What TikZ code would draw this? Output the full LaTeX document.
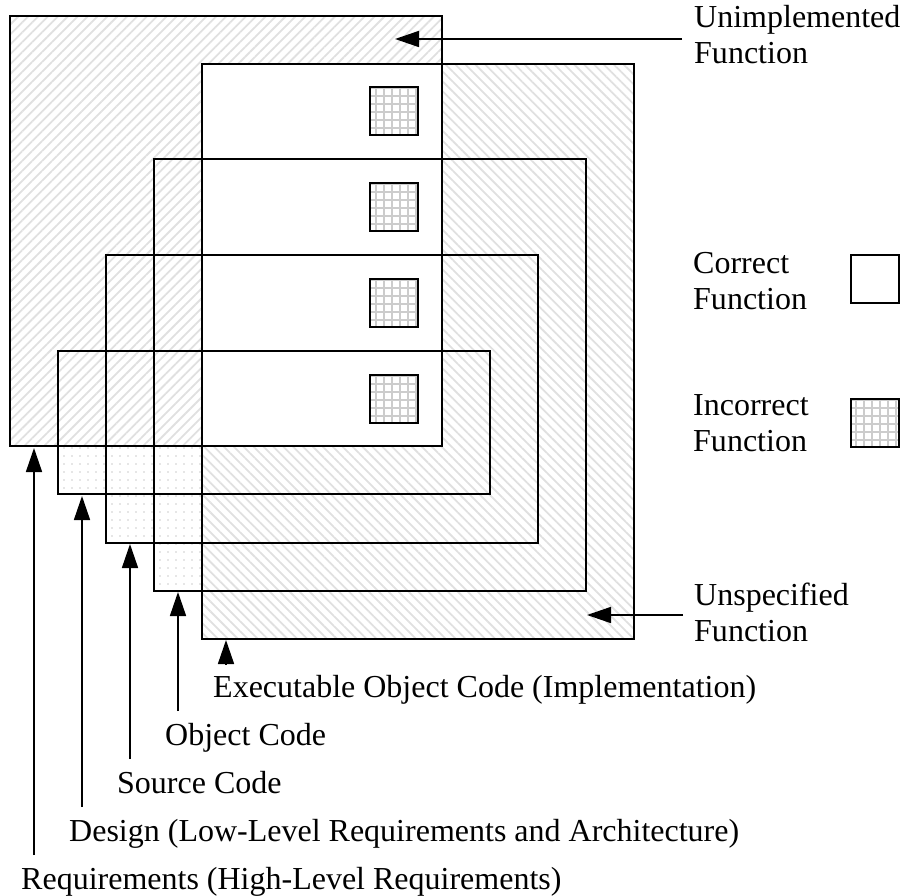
\documentclass[tikz,border=0pt]{standalone}
\usepackage{fontspec}
\setmainfont{Liberation Serif}
\usetikzlibrary{arrows.meta}
\usetikzlibrary{patterns.meta}

\tikzset{
  level/.style={draw, line width=1.2bp},
  unimpl/.style={pattern={Lines[angle=45,distance=7bp,line width=1.8bp]}, pattern color=black!12},
  unspec/.style={pattern={Lines[angle=-45,distance=7bp,line width=1.8bp]}, pattern color=black!12},
  derived/.style={pattern={Dots[distance=8bp,radius=0.8bp]}, pattern color=black!20},
  okbox/.style={draw, line width=1.2bp, minimum size=48bp, inner sep=0pt},
  badbox/.style={okbox, pattern={Hatch[angle=0,distance=8bp,line width=1.8bp]}, pattern color=black!20},
  pointer/.style={line width=1.6bp, -{Triangle[length=24bp,width=16bp]}},
  caption/.style={anchor=base west, inner sep=0pt, align=left, font=\fontsize{32bp}{36bp}\selectfont}
}

\begin{document}
\begin{tikzpicture}[x=1bp,y=-1bp]
  \useasboundingbox (0,0) rectangle (904,896);
  % areas
  \fill[unimpl] (10,16) -- (442,16) -- (442,64) -- (202,64) -- (202,446) -- (10,446) -- cycle;
  \fill[unspec] (442,64) -- (634,64) -- (634,639) -- (202,639) -- (202,446) -- (442,446) -- cycle;
  \fill[derived] (58,446) -- (202,446) -- (202,591) -- (154,591) -- (154,543) -- (106,543) -- (106,494) -- (58,494) -- cycle;
  % levels
  \draw[level] (10,16) rectangle (442,446);
  \draw[level] (58,351) rectangle (490,494);
  \draw[level] (106,255) rectangle (538,543);
  \draw[level] (154,159) rectangle (586,591);
  \draw[level] (202,64) rectangle (634,639);
  % incorrect functions
  \node[badbox] (bad1) at (394,111) {};
  \node[badbox] (bad2) at (394,207) {};
  \node[badbox] (bad3) at (394,303) {};
  \node[badbox] (bad4) at (394,399) {};
  % key
  \node[okbox] (okkey) at (875,279) {};
  \node[badbox] (badkey) at (875,423) {};
  \begin{scope}[every node/.style={caption}]
    \node (unimpltext) at (694,63) {Unimplemented\\Function};
    \node (oktext) at (693,309) {Correct\\Function};
    \node (badtext) at (693,451) {Incorrect\\Function};
    \node (unspectext) at (694,641) {Unspecified\\Function};
    \node (exectext) at (213,697) {Executable Object Code (Implementation)};
    \node (objtext) at (165,745) {Object Code};
    \node (srctext) at (117,793) {Source Code};
    \node (destext) at (69,841) {Design (Low-Level Requirements and Architecture)};
    \node (reqtext) at (21,889) {Requirements (High-Level Requirements)};
  \end{scope}
  % arrow ends
  \coordinate (unimplfrom) at (682,39);
  \coordinate (unimplto) at (395,39);
  \coordinate (unspecfrom) at (683,615);
  \coordinate (unspecto) at (587,615);
  \coordinate (reqfrom) at (34,855);
  \coordinate (reqto) at (34,448);
  \coordinate (desfrom) at (82,807);
  \coordinate (desto) at (82,496);
  \coordinate (srcfrom) at (130,759);
  \coordinate (srcto) at (130,544);
  \coordinate (objfrom) at (178,711);
  \coordinate (objto) at (178,592);
  \coordinate (execfrom) at (226,665);
  \coordinate (execto) at (226,640);
  \draw[pointer] (unimplfrom) -- (unimplto);
  \draw[pointer] (unspecfrom) -- (unspecto);
  \draw[pointer] (reqfrom) -- (reqto);
  \draw[pointer] (desfrom) -- (desto);
  \draw[pointer] (srcfrom) -- (srcto);
  \draw[pointer] (objfrom) -- (objto);
  \draw[pointer] (execfrom) -- (execto);
\end{tikzpicture}
\end{document}
